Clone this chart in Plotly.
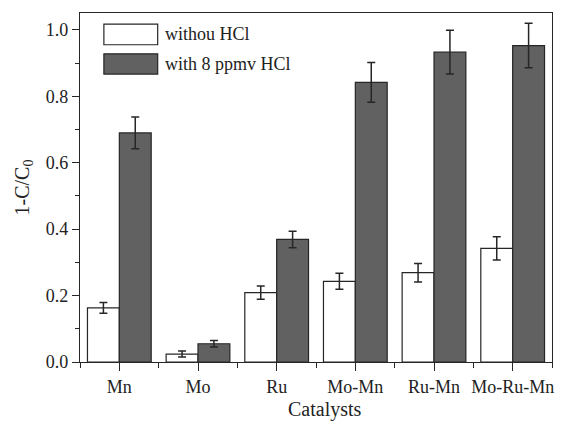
import plotly.graph_objects as go

# Catalyst conversion (1 - C/C0) with and without HCl in the feed
catalysts = ["Mn", "Mo", "Ru", "Mo-Mn", "Ru-Mn", "Mo-Ru-Mn"]
without_hcl = [0.163, 0.024, 0.209, 0.243, 0.269, 0.342]
without_hcl_err = [0.016, 0.009, 0.020, 0.024, 0.028, 0.035]
with_hcl = [0.690, 0.055, 0.369, 0.842, 0.933, 0.953]
with_hcl_err = [0.048, 0.010, 0.025, 0.060, 0.066, 0.067]
y_ticks = [0.0, 0.2, 0.4, 0.6, 0.8, 1.0]

FONT = "Liberation Serif"
DARK = "#616161"
EDGE = "#262626"
xpos = list(range(len(catalysts)))

fig = go.Figure()
fig.add_trace(go.Bar(
    x=xpos, y=without_hcl, name="withou HCl",
    marker=dict(color="white", line=dict(color=EDGE, width=1.2)),
    error_y=dict(type="data", array=without_hcl_err, color=EDGE, thickness=1.5, width=4),
    showlegend=False,
))
fig.add_trace(go.Bar(
    x=xpos, y=with_hcl, name="with 8 ppmv HCl",
    marker=dict(color=DARK, line=dict(color=EDGE, width=1.2)),
    error_y=dict(type="data", array=with_hcl_err, color=EDGE, thickness=1.5, width=4),
    showlegend=False,
))

axis_line = dict(showline=True, linecolor=EDGE, linewidth=1.3, showgrid=False, zeroline=False)
tick_font = dict(family=FONT, size=18, color="#222")

fig.update_layout(
    width=566, height=425,
    margin=dict(l=80, r=12, t=13, b=63),
    plot_bgcolor="white", paper_bgcolor="white",
    barmode="group", bargap=0.19, bargroupgap=0,
    font=dict(family=FONT, size=18, color="#222"),
    xaxis=dict(
        **axis_line, range=[-0.5, 5.5], mirror=True,
        tickmode="array", tickvals=xpos, ticktext=catalysts,
        ticks="outside", ticklen=8, tickwidth=1.3, tickcolor=EDGE,
        tickfont=tick_font,
        minor=dict(tick0=0.5, dtick=1, ticks="outside", ticklen=5, tickwidth=1.3, tickcolor=EDGE),
    ),
    yaxis=dict(
        **axis_line, range=[0, 1.051], mirror=True,
        tickmode="array", tickvals=y_ticks, ticktext=[f"{v:.1f}" for v in y_ticks],
        ticks="outside", ticklen=7, tickwidth=1.3, tickcolor=EDGE,
        tickfont=tick_font,
        minor=dict(tick0=0.1, dtick=0.2, ticks="outside", ticklen=4, tickwidth=1.3, tickcolor=EDGE),
        title=dict(text="1-C/C<sub>0</sub>", font=dict(family=FONT, size=20, color="#222"), standoff=10),
    ),
    # top axis: inward ticks at centres and boundaries
    xaxis2=dict(
        overlaying="x", side="top", range=[-0.5, 5.5], showgrid=False, zeroline=False,
        showline=False, tickmode="linear", tick0=-0.5, dtick=0.5,
        ticks="inside", ticklen=4, tickwidth=1.3, tickcolor=EDGE, showticklabels=False,
    ),
    # right axis: short outward ticks
    yaxis2=dict(
        overlaying="y", side="right", range=[0, 1.051], showgrid=False, zeroline=False,
        showline=False, tickmode="linear", tick0=0, dtick=0.1,
        ticks="outside", ticklen=4, tickwidth=1.3, tickcolor=EDGE, showticklabels=False,
    ),
)

# x-axis title
fig.add_annotation(
    text="Catalysts", xref="paper", yref="paper", x=0.519, y=-0.137,
    xanchor="center", yanchor="middle", showarrow=False,
    font=dict(family=FONT, size=20, color="#222"),
)

# legend drawn as boxes with labels
legend_items = [("withou HCl", "white", 0.968, 0.909), ("with 8 ppmv HCl", DARK, 0.883, 0.825)]
for label, color, y1, y0 in legend_items:
    fig.add_shape(type="rect", xref="paper", yref="paper", x0=0.0506, x1=0.1646, y0=y0, y1=y1,
                  fillcolor=color, line=dict(color=EDGE, width=1.2))
    fig.add_annotation(text=label, xref="paper", yref="paper", x=0.1751, y=(y0 + y1) / 2,
                       xanchor="left", yanchor="middle", showarrow=False,
                       font=dict(family=FONT, size=18, color="#222"))

fig.write_html("out.html")
